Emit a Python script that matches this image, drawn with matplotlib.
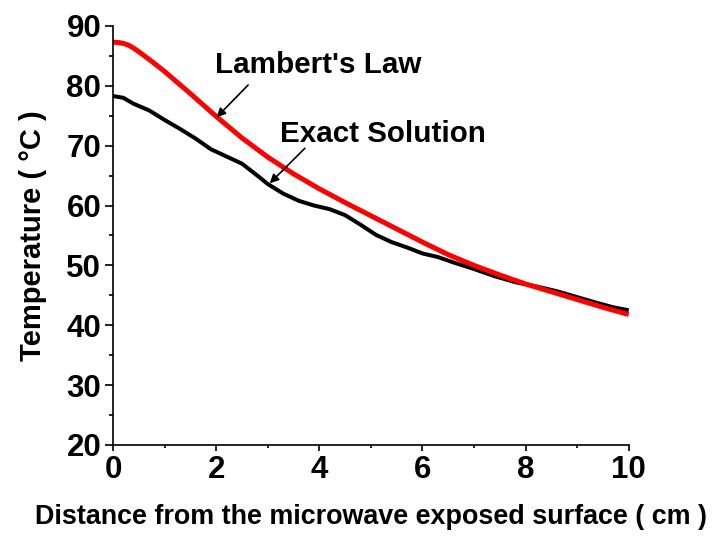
import matplotlib
matplotlib.use("Agg")
import matplotlib.pyplot as plt
from matplotlib.ticker import MultipleLocator

plt.rcParams['font.family'] = ['Liberation Sans', 'DejaVu Sans']
plt.rcParams['font.weight'] = 'bold'

# Lambert's Law temperature profile
x_lambert = [0, 0.1, 0.2, 0.3, 0.4, 0.5, 0.75, 1.0, 1.5, 2.0, 2.5, 3.0, 3.5, 4.0, 4.5,
             5.0, 5.5, 6.0, 6.5, 7.0, 7.5, 8.0, 8.5, 9.0, 9.5, 10.0]
t_lambert = [87.3, 87.25, 87.1, 86.8, 86.3, 85.7, 84.1, 82.4, 78.7, 74.9, 71.3, 68.1,
             65.3, 62.8, 60.5, 58.3, 56.1, 53.9, 51.8, 50.0, 48.4, 46.9, 45.6, 44.3,
             43.0, 41.8]

# Exact solution temperature profile
x_exact = [0, 0.2, 0.4, 0.7, 1.0, 1.3, 1.6, 1.9, 2.2, 2.5, 2.8, 3.0, 3.3, 3.6,
           3.9, 4.2, 4.5, 4.8, 5.1, 5.4, 5.7, 6.0, 6.3, 6.6, 7.0, 7.4, 7.8,
           8.2, 8.6, 9.0, 9.4, 9.7, 10.0]
t_exact = [78.3, 78.0, 77.0, 75.9, 74.3, 72.8, 71.2, 69.4, 68.2, 67.0, 65.0, 63.6,
           62.0, 60.8, 60.0, 59.4, 58.4, 56.8, 55.1, 53.9, 53.0, 52.0, 51.4, 50.5,
           49.4, 48.2, 47.2, 46.5, 45.7, 44.7, 43.7, 43.0, 42.5]

x_ticks = [0, 2, 4, 6, 8, 10]
y_ticks = [20, 30, 40, 50, 60, 70, 80, 90]

fig = plt.figure(figsize=(7.13, 5.38), dpi=100)
ax = fig.add_axes([0.1585, 0.1729, 0.7233, 0.7788])

ax.plot(x_exact, t_exact, color='black', lw=2.9, solid_capstyle='butt',
        solid_joinstyle='round')
ax.plot(x_lambert, t_lambert, color='#ff0000', lw=3.6, solid_capstyle='butt',
        solid_joinstyle='round')

ax.set_xlim(0, 10)
ax.set_ylim(20, 90)
ax.set_xticks(x_ticks)
ax.set_yticks(y_ticks)
ax.xaxis.set_minor_locator(MultipleLocator(1))
ax.yaxis.set_minor_locator(MultipleLocator(5))

for side in ('top', 'right'):
    ax.spines[side].set_visible(False)
for side in ('left', 'bottom'):
    ax.spines[side].set_linewidth(1.2)

ax.tick_params(axis='both', which='both', direction='out', width=1.2, labelsize=22.5)
ax.tick_params(axis='y', which='major', length=5.5, pad=3)
ax.tick_params(axis='y', which='minor', length=3)
ax.tick_params(axis='x', which='major', length=4, pad=3)
ax.tick_params(axis='x', which='minor', length=2.5)
for lab in ax.get_xticklabels() + ax.get_yticklabels():
    lab.set_fontweight('bold')

ax.set_xlabel('Distance from the microwave exposed surface ( cm )',
              fontsize=19.4, fontweight='bold', labelpad=14)
ax.set_ylabel('Temperature ( °C )', fontsize=21, fontweight='bold', labelpad=14)

arrow = dict(arrowstyle='-|>', color='black', lw=1.2, mutation_scale=13,
             shrinkA=0, shrinkB=0)
ax.text(1.98, 82.1, "Lambert's Law", fontsize=21.3, fontweight='bold',
        ha='left', va='baseline')
ax.annotate('', xy=(2.01, 74.75), xytext=(2.62, 80.14), arrowprops=arrow)
ax.text(3.24, 70.67, 'Exact Solution', fontsize=21.3, fontweight='bold',
        ha='left', va='baseline')
ax.annotate('', xy=(3.04, 63.72), xytext=(3.72, 69.57), arrowprops=arrow)

fig.savefig('out.png', dpi=100)
